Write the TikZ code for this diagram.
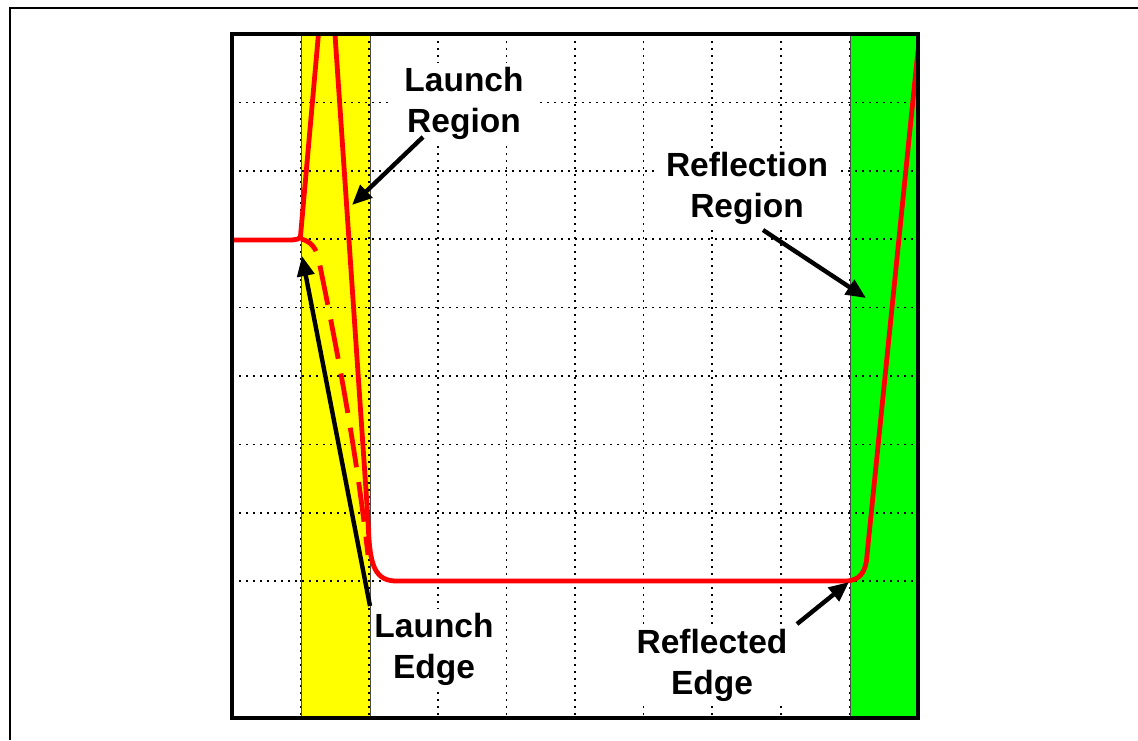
\documentclass[tikz,border=0pt]{standalone}
\usepackage{fontspec}
\setmainfont{Liberation Sans}
\usetikzlibrary{arrows.meta}
\definecolor{tred}{RGB}{255,0,0}
\definecolor{tyellow}{RGB}{255,255,0}
\definecolor{tgreen}{RGB}{0,255,0}
\tikzset{
  gridline/.style={line width=0.75pt, dash pattern=on 0.8pt off 2.7pt, black},
  band/.style={draw=black!70, line width=0.3pt},
  label/.style={fill=white, align=center, inner xsep=6pt, inner ysep=2pt,
    font=\bfseries\fontsize{16.75}{20.5}\selectfont},
  trace/.style={draw=tred, line width=2.4pt, line join=round},
  pointer/.style={draw=black, line width=2.2pt, -{Triangle[length=10pt,width=8.5pt]}},
}
\begin{document}
\begin{tikzpicture}[x=0.5pt, y=-0.5pt]
\useasboundingbox (0,0) rectangle (1138,740);
% outer border (only left and top visible)
\draw[line width=1pt] (10,740) -- (10,8) -- (1138,8);
% bands
\fill[tyellow] (301,34) rectangle (370,718);
\fill[tgreen] (850,34) rectangle (918,718);
\draw[band] (301,34) -- (301,718) (370,34) -- (370,718) (850,34) -- (850,718);
% grid
\foreach \i in {1,...,9} {
  \draw[gridline] ({232+\i*68.6},34) -- ({232+\i*68.6},718);
}
\foreach \j in {1,...,8} {
  \draw[gridline] (232,{34+\j*68.4}) -- (918,{34+\j*68.4});
}
% labels
\node[label] (lr) at (464,103.5) {Launch\\Region};
\node[label] (rr) at (747,188.5) {Reflection\\Region};
\node[label, inner xsep=1.5pt] (le) at (434,649.5) {Launch\\Edge};
\node[label] (re) at (712,665.5) {Reflected\\Edge};
% traces
\begin{scope}
\clip (232,34) rectangle (918,718);
\draw[trace] (232,240) -- (288,240) .. controls (297,240) and (300,239) .. (300.5,236)
  -- (319.7,20) -- (334,20) -- (368,520)
  .. controls (369.5,560) and (372,580) .. (395,581) -- (845,581)
  .. controls (860,581) and (866,572) .. (867,555) -- (918,50);
\draw[trace, line cap=butt, dash pattern=on 20pt off 7.5pt, dash phase=10pt]
  (301,239) .. controls (310,241) and (315,247) .. (318,256)
  .. controls (335,340) and (355,440) .. (368,555);
\end{scope}
% arrow end points
\coordinate (lrtail) at (423,137);
\coordinate (lrtip) at (352,205);
\coordinate (rrtail) at (763,230);
\coordinate (rrtip) at (866,298);
\coordinate (letail) at (370,606);
\coordinate (letip) at (302,256);
\coordinate (retail) at (797,624);
\coordinate (retip) at (849,582);
\draw[pointer] (lrtail) -- (lrtip);
\draw[pointer] (rrtail) -- (rrtip);
\draw[pointer] (letail) -- (letip);
\draw[pointer] (retail) -- (retip);
% frame
\draw[line width=1.75pt] (232,34) rectangle (918,718);
\end{tikzpicture}
\end{document}
